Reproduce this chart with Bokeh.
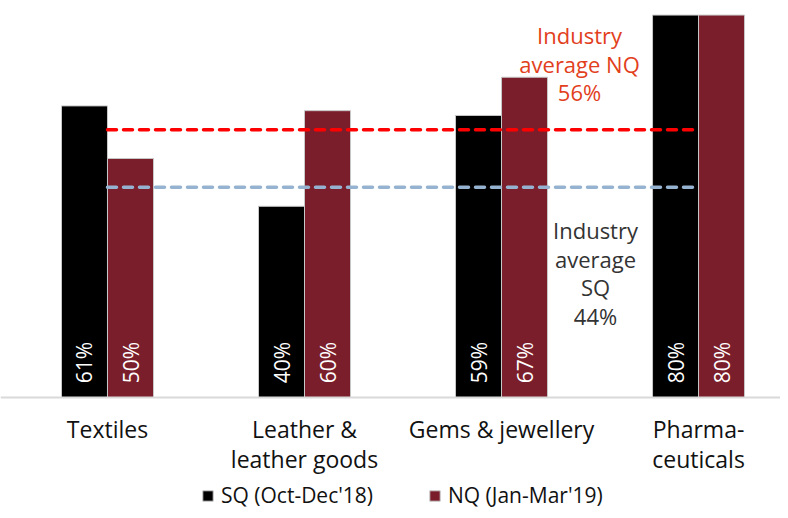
import numpy as np
from bokeh.plotting import figure
from bokeh.models import Range1d, Legend, LegendItem, Span
from bokeh.core.properties import value
from bokeh.embed import file_html
from bokeh.resources import INLINE

# ---- data ----
categories = ["Textiles", "Leather &\nleather goods", "Gems & jewellery", "Pharma-\nceuticals"]
sq_values = [61, 40, 59, 80]
nq_values = [50, 60, 67, 80]
sq_name = "SQ (Oct-Dec'18)"
nq_name = "NQ (Jan-Mar'19)"
industry_avg_sq = 44
industry_avg_nq = 56

FONT = "Open Sans"
SQ_COLOR = "#000000"
NQ_COLOR = "#7a1e2b"
RED = "#ff0000"
BLUE = "#95b3d0"

pos = np.arange(len(categories)) + 0.5
bar_w = 0.2335
sq_x = pos - bar_w / 2
nq_x = pos + bar_w / 2

p = figure(width=780, height=510, output_backend="svg", toolbar_location=None,
           x_range=Range1d(-0.0431, 3.916), y_range=Range1d(-23.64, 83.05),
           x_axis_location=None, y_axis_location=None, min_border=0)
p.outline_line_color = None
p.xgrid.visible = False
p.ygrid.visible = False
p.background_fill_color = "white"

r_sq = p.vbar(x=sq_x, top=sq_values, width=bar_w, fill_color=SQ_COLOR,
              line_color="#c8c8c8", line_width=1)
r_nq = p.vbar(x=nq_x, top=nq_values, width=bar_w, fill_color=NQ_COLOR,
              line_color="#c8c8c8", line_width=1)

# baseline (category axis line)
p.add_layout(Span(location=0, dimension="width", line_color="#d9d9d9", line_width=2))

# category labels
p.text(x=pos, y=[-3.2] * len(pos), text=categories, text_align="center",
       text_baseline="top", text_color="#111111", text_font=value(FONT),
       text_font_size="23px", text_line_height=0.95)

# value labels inside bars
p.text(x=sq_x, y=[3] * len(sq_values), text=[f"{v}%" for v in sq_values],
       angle=np.pi / 2, text_align="left", text_baseline="middle",
       text_color="white", text_font=value(FONT), text_font_size="21px")
p.text(x=nq_x, y=[3] * len(nq_values), text=[f"{v}%" for v in nq_values],
       angle=np.pi / 2, text_align="left", text_baseline="middle",
       text_color="white", text_font=value(FONT), text_font_size="21px")

# industry average lines
p.line(x=[pos[0], pos[-1]], y=[industry_avg_nq] * 2, line_color=RED,
       line_width=3.5, line_dash="9 7", line_cap="round")
p.line(x=[pos[0], pos[-1]], y=[industry_avg_sq] * 2, line_color=BLUE,
       line_width=3.5, line_dash="9 7", line_cap="round")

p.text(x=[2.896], y=[69.8], text=[f"Industry\naverage NQ\n{industry_avg_nq}%"],
       text_align="center", text_baseline="middle", text_color="#e2401c",
       text_font=value(FONT), text_font_size="22px", text_line_height=0.95)
p.text(x=[2.977], y=[26.0], text=[f"Industry\naverage\nSQ\n{industry_avg_sq}%"],
       text_align="center", text_baseline="middle", text_color="#333333",
       text_font=value(FONT), text_font_size="22px", text_line_height=0.95)

legend = Legend(items=[LegendItem(label=sq_name, renderers=[r_sq]),
                       LegendItem(label=nq_name, renderers=[r_nq])],
                orientation="horizontal", location=(201, 1),
                glyph_width=13, glyph_height=13, label_standoff=7, spacing=37,
                label_width=170, padding=0, margin=0, border_line_color=None,
                background_fill_alpha=0, label_text_font=FONT,
                label_text_font_size="21px", label_text_color="#111111")
p.add_layout(legend, "center")

open("out.html", "w").write(file_html(p, INLINE))
